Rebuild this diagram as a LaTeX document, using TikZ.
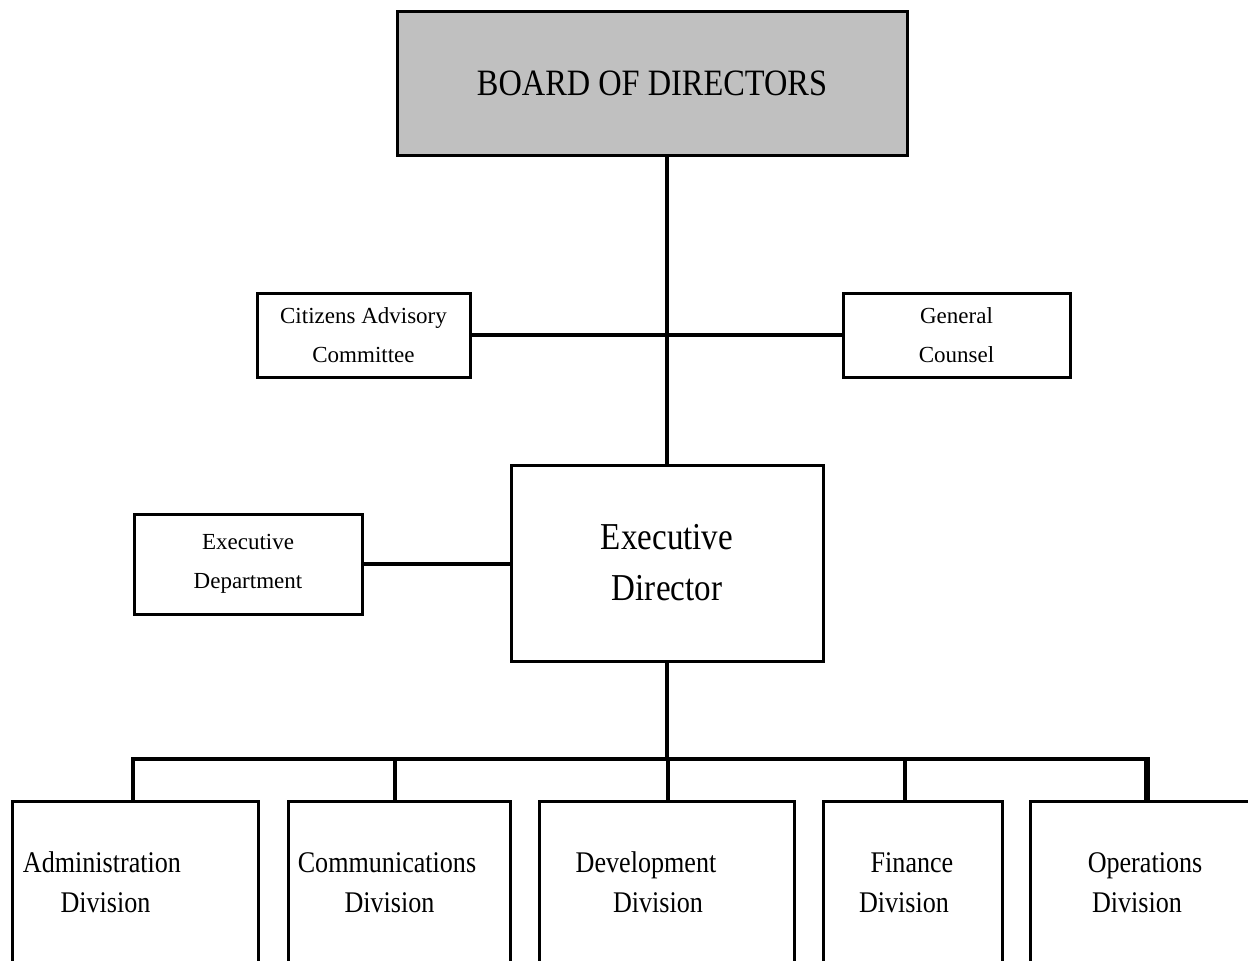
\documentclass[tikz,border=0pt]{standalone}
\usepackage{fontspec}
\setmainfont{Liberation Serif}
\newfontfamily\condfont[FakeStretch=0.87]{Liberation Serif}
\usetikzlibrary{calc}
\definecolor{boardgray}{HTML}{C0C0C0}
\begin{document}
\begin{tikzpicture}[x=0.5pt,y=-0.5pt,
  box/.style={draw=black, line width=1.5pt, rectangle, inner sep=0pt, align=center},
  conn/.style={line width=2.15pt, black, line join=miter, line cap=rect},
  smalltext/.style={font=\fontsize{11.5}{19.5}\selectfont},
  divtext/.style={font=\condfont\fontsize{15}{20}\selectfont, inner sep=0pt, anchor=base},
  divbox/.style={box, minimum height=100pt}
]
\useasboundingbox (0,0) rectangle (1248,960);
\clip (0,0) rectangle (1248,960);
\fill[white] (0,0) rectangle (1248,960);

% boxes
\node[box, fill=boardgray, minimum width=255pt, minimum height=72pt,
      font=\condfont\fontsize{18.6}{22}\selectfont] (board) at (652,83) {BOARD OF DIRECTORS};
\node[box, smalltext, minimum width=106.5pt, minimum height=42pt] (citizens) at (363.5,335) {Citizens Advisory\\Committee};
\node[box, smalltext, minimum width=113.5pt, minimum height=42pt] (counsel) at (956.5,335) {General\\Counsel};
\node[box, smalltext, minimum width=114pt, minimum height=50pt] (execdept) at (248,564) {Executive\\Department};
\node[box, minimum width=156pt, minimum height=98pt,
      font=\condfont\fontsize{19}{25.5}\selectfont] (execdir) at (667,563) {Executive\\Director};

\node[divbox, minimum width=123pt] (admin) at (135,901) {};
\node[divbox, minimum width=111pt] (comm) at (399,901) {};
\node[divbox, minimum width=127.5pt] (dev) at (666.5,901) {};
\node[divbox, minimum width=89.5pt] (fin) at (912.5,901) {};
\node[divbox, minimum width=135pt] (ops) at (1165,901) {};

% division texts
\node[divtext] (admin1) at (102,872) {Administration};
\node[divtext] (admin2) at (105.5,912) {Division};
\node[divtext] (comm1) at (387,872) {Communications};
\node[divtext] (comm2) at (389.5,912) {Division};
\node[divtext] (dev1) at (646,872) {Development};
\node[divtext] (dev2) at (658,912) {Division};
\node[divtext] (fin1) at (912,872) {Finance};
\node[divtext] (fin2) at (904,912) {Division};
\node[divtext] (ops1) at (1145,872) {Operations};
\node[divtext] (ops2) at (1137,912) {Division};

% connectors
\draw[conn] (execdir.north |- board.south) -- (execdir.north);
\draw[conn] (citizens.east) -- (counsel.west);
\draw[conn] (execdept.east) -- (execdept.east -| execdir.west);

\coordinate (busL) at (133,759);
\coordinate (busC) at (395,759);
\coordinate (busD) at (668,759);
\coordinate (busF) at (905,759);
\coordinate (busR) at (1147,759);

\draw[conn] (execdir.south) -- (execdir.south |- busD);
\draw[conn, line cap=butt] (busL |- admin.north) -- (busL) -- (busR) -- (busR |- ops.north);
\draw[conn, line width=3pt, line cap=butt] ($(busR)+(0,-2)$) -- (busR |- ops.north);
\draw[conn, line cap=butt] (busC) -- (busC |- comm.north);
\draw[conn, line cap=butt] (busD) -- (busD |- dev.north);
\draw[conn, line cap=butt] (busF) -- (busF |- fin.north);
\end{tikzpicture}
\end{document}
